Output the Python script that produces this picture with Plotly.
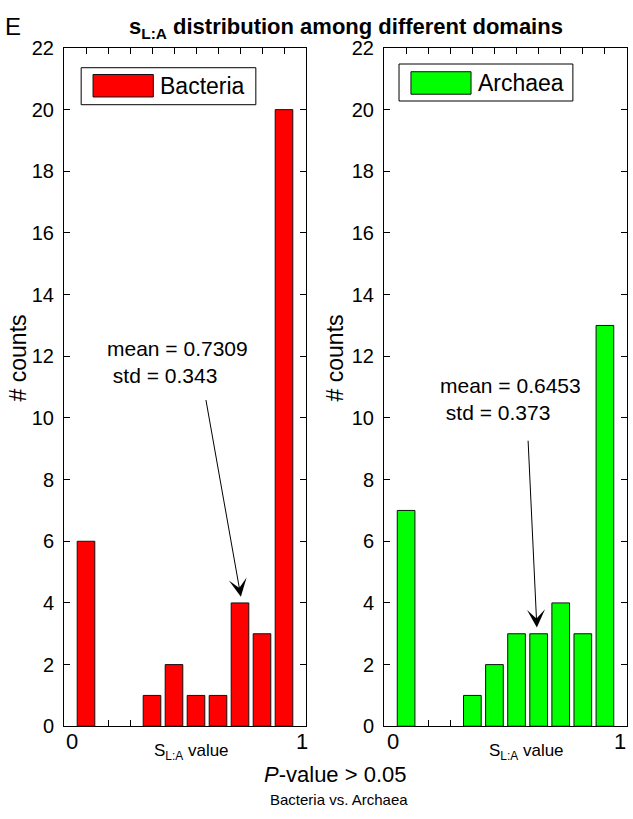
import plotly.graph_objects as go

# ---- data ----
bins = list(range(1, 11))
bacteria_counts = [6, 0, 0, 1, 2, 1, 1, 4, 3, 20]
archaea_counts = [7, 0, 0, 1, 2, 3, 3, 4, 3, 13]
series_names = ["Bacteria", "Archaea"]
series_colors = ["#FF0000", "#00FF00"]
mean_text = ["mean = 0.7309<br> std = 0.343", "mean = 0.6453<br> std = 0.373"]
y_ticks = list(range(0, 23, 2))

FONT = "Liberation Sans, Arial, sans-serif"
W, H = 633, 819

fig = go.Figure()
for i, (vals, name, col) in enumerate(zip([bacteria_counts, archaea_counts], series_names, series_colors)):
    ax = "x" if i == 0 else "x2"
    ay = "y" if i == 0 else "y2"
    line_w = [1 if v > 0 else 0 for v in vals]
    fig.add_trace(go.Bar(x=bins, y=vals, name=name, width=0.8,
                         marker=dict(color=col, line=dict(color="#111111", width=line_w)),
                         xaxis=ax, yaxis=ay, showlegend=False, hoverinfo="skip"))

def px_x(p):
    return p / W

def px_y(p):
    return 1 - p / H

xdoms = [[px_x(64), px_x(306)], [px_x(384), px_x(627)]]
ydom = [px_y(735), px_y(38)]

common_x = dict(range=[0, 11], tickvals=bins, showticklabels=False, ticks="inside",
                ticklen=6, tickcolor="black", showline=True, linecolor="black", linewidth=1,
                mirror="ticks", showgrid=False, zeroline=False, layer="below traces", fixedrange=True)
common_y = dict(range=[0, 22], tickvals=y_ticks, ticks="inside", ticklen=6, tickcolor="black",
                showline=True, linecolor="black", linewidth=1, mirror="ticks", showgrid=False,
                zeroline=False, tickfont=dict(family=FONT, size=20, color="black"),
                ticklabelstandoff=5, fixedrange=True)

fig.update_layout(
    width=W, height=H, autosize=False,
    margin=dict(l=0, r=0, t=0, b=0, pad=0),
    paper_bgcolor="white", plot_bgcolor="white",
    font=dict(family=FONT, color="black"),
    bargap=0,
    xaxis=dict(domain=xdoms[0], anchor="y", **common_x),
    yaxis=dict(domain=ydom, anchor="x", **common_y),
    xaxis2=dict(domain=xdoms[1], anchor="y2", **common_x),
    yaxis2=dict(domain=ydom, anchor="x2", **common_y),
)

shapes = []
annotations = []

# legend boxes (per panel)
legend_geo = [
    dict(box=(0.78, 8.72, 20.16, 21.36), sw=(1.32, 4.06, 20.41, 21.14), tx=(4.25, 20.77)),
    dict(box=(0.68, 8.55, 20.28, 21.48), sw=(1.22, 3.94, 20.50, 21.23), tx=(4.17, 20.87)),
]
for i, g in enumerate(legend_geo):
    xr = "x" if i == 0 else "x2"
    yr = "y" if i == 0 else "y2"
    x0, x1, y0, y1 = g["box"]
    shapes.append(dict(type="rect", xref=xr, yref=yr, x0=x0, x1=x1, y0=y0, y1=y1,
                       line=dict(color="black", width=1), fillcolor="white"))
    x0, x1, y0, y1 = g["sw"]
    shapes.append(dict(type="rect", xref=xr, yref=yr, x0=x0, x1=x1, y0=y0, y1=y1,
                       line=dict(color="#111111", width=1), fillcolor=series_colors[i]))
    annotations.append(dict(xref=xr, yref=yr, x=g["tx"][0], y=g["tx"][1], text=series_names[i],
                            showarrow=False, xanchor="left", yanchor="middle",
                            font=dict(size=23, family=FONT, color="black")))

# mean/std text and arrows
text_pos = [(1.87, 11.8), (2.45, 10.6)]
arrows = [((8.04, 4.2), (6.44, 10.63)), ((6.92, 3.2), (6.52, 9.31))]
for i in range(2):
    xr = "x" if i == 0 else "x2"
    yr = "y" if i == 0 else "y2"
    annotations.append(dict(xref=xr, yref=yr, x=text_pos[i][0], y=text_pos[i][1], text=mean_text[i],
                            showarrow=False, xanchor="left", yanchor="middle", align="left",
                            font=dict(size=21, family=FONT, color="black")))
    (tx, ty), (sx, sy) = arrows[i]
    annotations.append(dict(xref=xr, yref=yr, x=tx, y=ty, ax=sx, ay=sy, axref=xr, ayref=yr,
                            text="", showarrow=True, arrowhead=3, arrowsize=3, arrowwidth=1,
                            arrowcolor="black"))

# x-axis end labels and "S L:A value"
end_labels = [[(0.37, "0"), (10.8, "1")], [(0.40, "0"), (10.7, "1")]]
sla_x = [5.8, 6.47]
for i in range(2):
    xr = "x" if i == 0 else "x2"
    for xv, t in end_labels[i]:
        annotations.append(dict(xref=xr, yref="paper", x=xv, y=px_y(751), text=t, showarrow=False,
                                xanchor="center", yanchor="middle",
                                font=dict(size=22, family=FONT, color="black")))
    annotations.append(dict(xref=xr, yref="paper", x=sla_x[i], y=px_y(761), text="S<sub>L:A</sub> value",
                            showarrow=False, xanchor="center", yanchor="middle",
                            font=dict(size=17, family=FONT, color="black")))

# y titles
for xc in (18, 335):
    annotations.append(dict(xref="paper", yref="paper", x=px_x(xc), y=px_y(357), text="# counts",
                            textangle=-90, showarrow=False, xanchor="center", yanchor="middle",
                            font=dict(size=23, family=FONT, color="black")))

# title, panel letter, bottom texts
annotations.append(dict(xref="paper", yref="paper", x=px_x(346), y=px_y(17),
                        text="<b>s<sub>L:A</sub> distribution among different domains</b>",
                        showarrow=False, xanchor="center", yanchor="middle",
                        font=dict(size=22, family=FONT, color="black")))
annotations.append(dict(xref="paper", yref="paper", x=px_x(3), y=px_y(16), text="E",
                        showarrow=False, xanchor="left", yanchor="middle",
                        font=dict(size=24, family=FONT, color="black")))
annotations.append(dict(xref="paper", yref="paper", x=px_x(335), y=px_y(785),
                        text="<i>P</i>-value > 0.05", showarrow=False, xanchor="center", yanchor="middle",
                        font=dict(size=22, family=FONT, color="black")))
annotations.append(dict(xref="paper", yref="paper", x=px_x(339), y=px_y(810),
                        text="Bacteria vs. Archaea", showarrow=False, xanchor="center", yanchor="middle",
                        font=dict(size=15, family=FONT, color="black")))

fig.update_layout(shapes=shapes, annotations=annotations)
fig.write_html("out.html", config={"displayModeBar": False, "staticPlot": True},
               post_script="document.body.style.margin='0';document.body.style.overflow='hidden';")
